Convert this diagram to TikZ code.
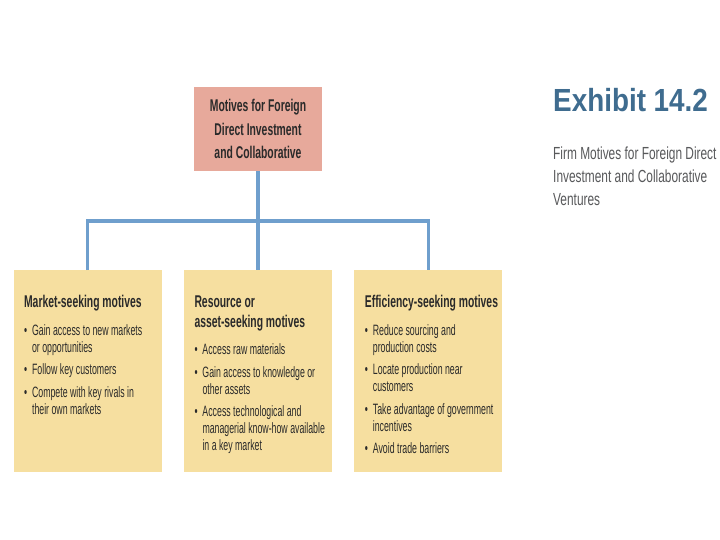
\documentclass[tikz,border=0pt]{standalone}
\usepackage{fontspec}
\setmainfont{Liberation Sans}
\newfontfamily\condfont[FakeStretch=0.585]{Liberation Sans}
\newfontfamily\headfont[FakeStretch=0.61]{Liberation Sans}
\newfontfamily\exhibitfont[FakeStretch=0.87]{Liberation Sans}
\newfontfamily\captionfont[FakeStretch=0.68]{Liberation Sans}
\usetikzlibrary{positioning}
\definecolor{RootRose}{HTML}{E7A99B}
\definecolor{MotiveSand}{HTML}{F6DFA0}
\definecolor{LinkBlue}{HTML}{6F9FCD}
\definecolor{ExhibitBlue}{HTML}{3F6C8F}
\definecolor{TextGray}{HTML}{2A2A2A}
\definecolor{CaptionGray}{HTML}{58595B}
\newcommand{\motivehead}[1]{{\headfont\bfseries\fontsize{17}{20}\selectfont #1\par}\vspace{5pt}}
\newcommand{\motiveitem}[1]{\par\hangindent=8pt\hangafter=1\noindent\makebox[8pt][l]{\textbullet}#1\par}
\newcommand{\motivebox}[1]{\parbox[c][202pt][t]{148pt}{\condfont\fontsize{15}{17}\selectfont
  \setlength{\parskip}{5.5pt}\raggedright\leftskip=10.5pt\let\\\newline\vspace*{19.5pt}#1}}

\begin{document}
\begin{tikzpicture}[
  x=1pt,y=-1pt,
  node distance=99pt and 22pt,
  root/.style={fill=RootRose,minimum width=128pt,minimum height=84pt,inner sep=0pt,align=center,text=TextGray,
    font=\headfont\bfseries\fontsize{17}{23.5}\selectfont},
  motive/.style={fill=MotiveSand,inner sep=0pt,text=TextGray},
  link/.style={LinkBlue,line width=3.5pt}
]
\useasboundingbox[fill=white] (0,0) rectangle (720,540);
\node[root] (top) at (258,129) {Motives for Foreign\\Direct Investment\\and Collaborative};
\node[motive,below=of top] (resource) {\motivebox{%
  \motivehead{Resource or\\asset-seeking motives}
  \motiveitem{Access raw materials}
  \motiveitem{Gain access to knowledge or\\other assets}
  \motiveitem{Access technological and\\managerial know-how available\\in a key market}}};
\node[motive,left=of resource] (market) {\motivebox{%
  \motivehead{Market-seeking motives}
  \motiveitem{Gain access to new markets\\or opportunities}
  \motiveitem{Follow key customers}
  \motiveitem{Compete with key rivals in\\their own markets}}};
\node[motive,right=of resource] (efficiency) {\motivebox{%
  \motivehead{Efficiency-seeking motives}
  \motiveitem{Reduce sourcing and\\production costs}
  \motiveitem{Locate production near\\customers}
  \motiveitem{Take advantage of government\\incentives}
  \motiveitem{Avoid trade barriers}}};
% tree connectors
\coordinate (bus) at (258,221);
\draw[link] (top.south) -- (bus);
\draw[link] (market.north) |- (bus) -| (efficiency.north);
\draw[link] (bus) -- (resource.north);
% exhibit caption
\node[anchor=base west,inner sep=0pt,text=ExhibitBlue,font=\exhibitfont\bfseries\fontsize{32}{36}\selectfont] (exhibit) at (553,112) {Exhibit 14.2};
\node[anchor=north west,inner sep=0pt,align=left,text=CaptionGray,font=\captionfont\fontsize{17.5}{23}\selectfont] (caption) at (553,147) {Firm Motives for Foreign Direct\\Investment and Collaborative\\Ventures};
\end{tikzpicture}
\end{document}
